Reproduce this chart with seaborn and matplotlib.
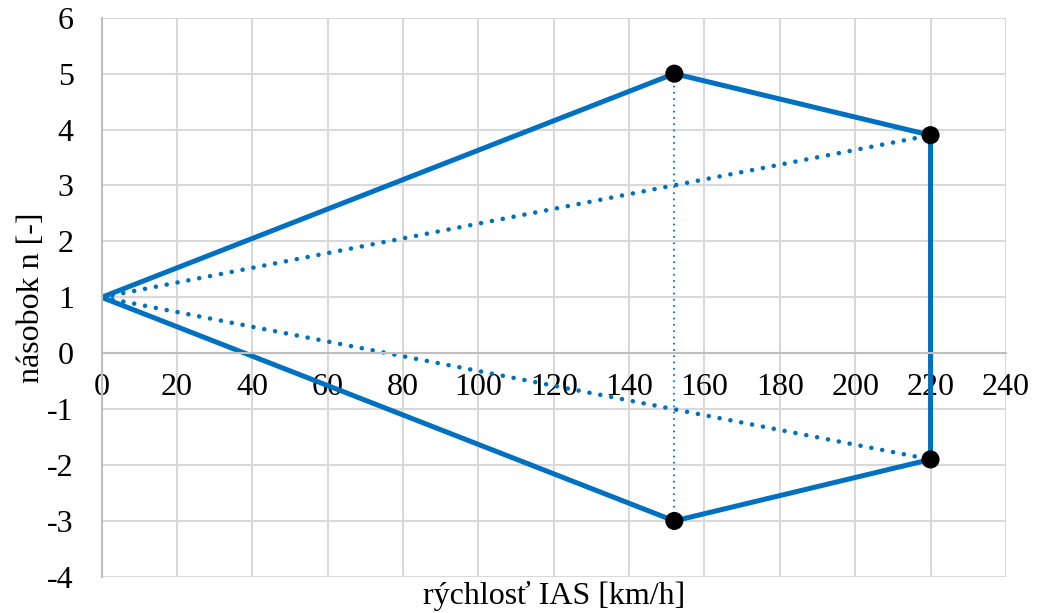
import matplotlib
matplotlib.use('Agg')
import matplotlib.pyplot as plt
import seaborn as sns
import pandas as pd

# obálka zaťaženia (V-n diagram)
v_obalka = [0, 152, 220, 220, 152, 0]
n_obalka = [1, 5, 3.9, -1.9, -3, 1]

# bodkované čiary (nárazy)
v_naraz_hore = [0, 220]
n_naraz_hore = [1, 3.9]
v_naraz_dole = [0, 220]
n_naraz_dole = [1, -1.9]

# zvislá pomocná čiara
v_zvisla = [152, 152]
n_zvisla = [5, -3]

# význačné body
v_body = [152, 220, 220, 152]
n_body = [5, 3.9, -1.9, -3]

x_ticks = list(range(0, 241, 20))
y_ticks = list(range(-4, 7))

modra = '#0070C0'

sns.set_theme(style='whitegrid')
plt.rcParams['font.family'] = ['Liberation Serif', 'DejaVu Serif']

fig = plt.figure(figsize=(10.37, 6.13), dpi=100)
ax = fig.add_axes([0.098, 0.059, 0.872, 0.912])

df_obalka = pd.DataFrame({'v': v_obalka, 'n': n_obalka})
sns.lineplot(data=df_obalka, x='v', y='n', sort=False, estimator=None,
             color=modra, linewidth=3.6, ax=ax, solid_joinstyle='round')

for vx, ny in [(v_naraz_hore, n_naraz_hore), (v_naraz_dole, n_naraz_dole)]:
    sns.lineplot(x=vx, y=ny, sort=False, estimator=None, color=modra,
                 linewidth=3.3, linestyle=(0, (0.01, 2.4)),
                 dash_capstyle='round', ax=ax)

sns.lineplot(x=v_zvisla, y=n_zvisla, sort=False, estimator=None, color=modra,
             linewidth=1.5, linestyle=(0, (0.01, 3.0)), dash_capstyle='round', ax=ax)

sns.scatterplot(x=v_body, y=n_body, color='black', s=170, edgecolor='none',
                zorder=5, ax=ax)

ax.set_xlim(0, 240)
ax.set_ylim(-4, 6)
ax.set_xticks(x_ticks)
ax.set_yticks(y_ticks)
ax.set_xticklabels([str(t) for t in x_ticks])
ax.set_yticklabels([str(t) for t in y_ticks])
ax.tick_params(axis='both', length=0, labelsize=23, colors='black')
ax.tick_params(axis='x', pad=14)
ax.tick_params(axis='y', pad=20)

for s in ['top', 'right']:
    ax.spines[s].set_visible(False)
ax.spines['bottom'].set_position(('data', 0))
ax.spines['bottom'].set_color('#bfbfbf')
ax.spines['bottom'].set_linewidth(1.5)
ax.spines['left'].set_color('#bfbfbf')
ax.spines['left'].set_linewidth(1.5)
ax.grid(True, color='#d9d9d9', linewidth=1.5)
ax.set_axisbelow(True)

ax.set_xlabel('rýchlosť IAS [km/h]', fontsize=23, color='black')
ax.set_ylabel('násobok n [-]', fontsize=23, color='black')
ax.xaxis.set_label_coords(0.5, -0.008)
ax.yaxis.set_label_coords(-0.062, 0.5)

fig.savefig('out.png', dpi=100)
